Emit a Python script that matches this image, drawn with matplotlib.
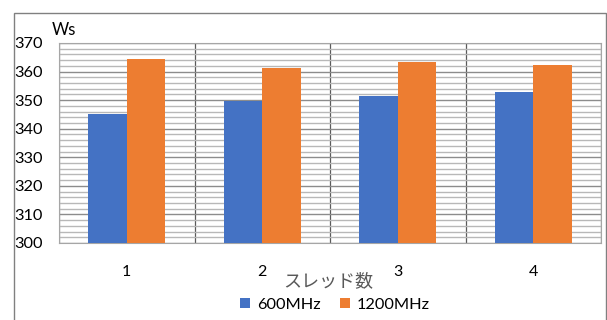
import numpy as np
import matplotlib.pyplot as plt
from matplotlib.patches import Rectangle

plt.rcParams['font.family'] = ['Lato', 'Noto Sans CJK JP', 'DejaVu Sans']

threads = ["1", "2", "3", "4"]
mhz600 = [345.2, 349.7, 351.5, 352.7]
mhz1200 = [364.5, 361.2, 363.2, 362.4]

fig = plt.figure(figsize=(6.07, 3.2), dpi=100)
ax = fig.add_axes([59/607, 1-243/320, 542/607, 200/320])

x = np.arange(len(threads))
w = 0.284
ax.bar(x - w/2, mhz600, w, color="#4472c4", label="600MHz", zorder=3)
ax.bar(x + w/2, mhz1200, w, color="#ed7d31", label="1200MHz", zorder=3)

ax.set_xlim(-0.5, 3.5)
ax.set_ylim(300, 370)
ax.set_yticks(np.arange(300, 371, 10))
ax.set_yticks(np.arange(300, 371, 2), minor=True)
ax.set_xticks(x)
ax.set_xticklabels(threads)
ax.set_xticks(np.arange(-0.5, 3.6, 0.5), minor=True)
ax.tick_params(axis="both", which="both", length=0)
ax.tick_params(axis="y", labelsize=11.8, pad=12)
ax.tick_params(axis="x", labelsize=11.5, pad=16)

ax.grid(True, axis="y", which="minor", color="#b8b8b8", lw=1, zorder=0)
ax.grid(True, axis="y", which="major", color="#8c8c8c", lw=1, zorder=0)
ax.grid(True, axis="x", which="minor", color="#5a5a5a", lw=0.9, zorder=0)
for s in ax.spines.values():
    s.set_color("#a6a6a6")

fig.text(52/607, 1-30/320, "Ws", fontsize=12, va="center", ha="left")
fig.text(328/607, 1-281/320, "スレッド数", fontsize=13, color="#595959",
         va="center", ha="center")

ax.legend(loc="center", bbox_to_anchor=(335/607, 1-305/320),
          bbox_transform=fig.transFigure, ncol=2, frameon=False,
          fontsize=11.8, handlelength=0.6, handleheight=0.6,
          columnspacing=1.2, handletextpad=0.4)

fig.patches.append(Rectangle((14/607, -0.1), 592/607, 1 - 13/320 + 0.1,
                             transform=fig.transFigure, fill=False,
                             edgecolor="#808080", lw=1))

fig.savefig("out.png", dpi=100)
